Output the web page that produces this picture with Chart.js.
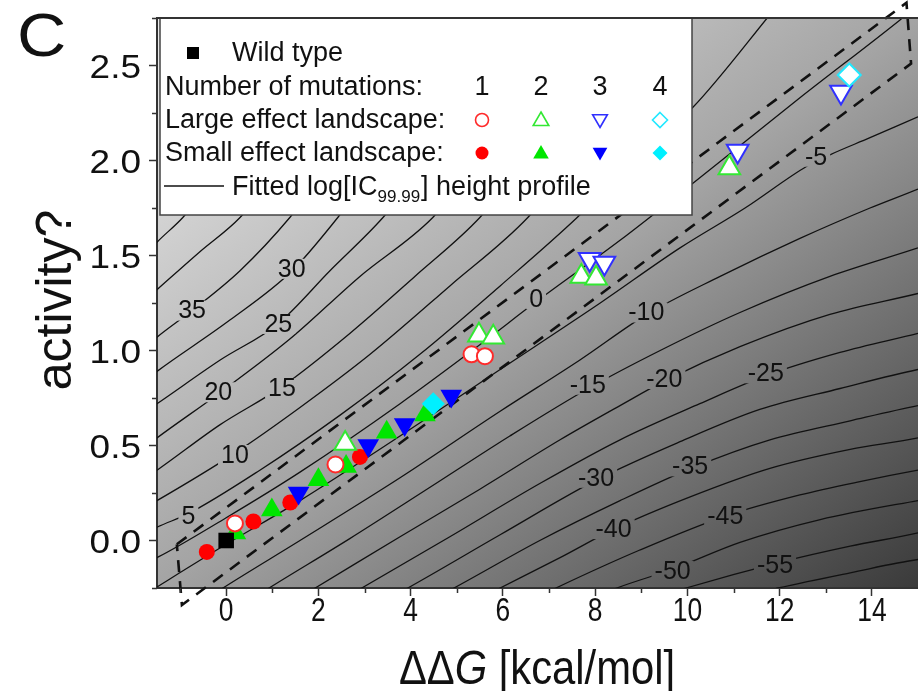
<!DOCTYPE html>
<html>
<head>
<meta charset="utf-8">
<script src="https://cdn.jsdelivr.net/npm/chart.js@4.4.1/dist/chart.umd.min.js"></script>
<style>
  html, body { margin: 0; padding: 0; background: #fff; overflow: hidden; }
  canvas { display: block; }
</style>
</head>
<body>
<canvas id="chart" width="918" height="691"></canvas>
<script>
// mutants: ddG [kcal/mol] vs activity, grouped by landscape and number of mutations
const wildX = [0];
const wildY = [0];

const small1X = [-0.42, 0.59, 1.39, 2.90];
const small1Y = [-0.06, 0.10, 0.20, 0.44];
const small2X = [0.20, 0.99, 2.00, 2.60, 3.48, 4.31];
const small2Y = [0.04, 0.16, 0.32, 0.39, 0.57, 0.66];
const small3X = [1.57, 3.08, 3.87, 4.88];
const small3Y = [0.25, 0.50, 0.61, 0.76];
const small4X = [4.49];
const small4Y = [0.72];

const large1X = [0.19, 2.37, 5.32, 5.61];
const large1Y = [0.09, 0.40, 0.98, 0.97];
const large2X = [2.58, 5.48, 5.79, 7.70, 8.02, 10.91];
const large2Y = [0.51, 1.08, 1.07, 1.39, 1.38, 1.96];
const large3X = [7.88, 8.20, 11.09, 13.33];
const large3Y = [1.48, 1.46, 2.05, 2.36];
const large4X = [13.51];
const large4Y = [2.45];

// viable region outline (dashed)
const bandX = [-1.07, 14.75, 14.85, -0.96, -1.07];
const bandY = [-0.02, 2.83, 2.51, -0.34, -0.02];

// fitted log[IC99.99] height profile, one line per level
const contour45 = [[-1.87,1.47],[-1.50,1.57],[-0.94,1.70],[0.26,2.06],[1.67,2.48],[2.97,2.87]];
const contour40 = [[-1.87,1.24],[-1.50,1.32],[-0.57,1.52],[0.30,1.70],[1.49,2.06],[2.90,2.48],[4.20,2.87]];
const contour35 = [[-1.87,0.99],[-1.50,1.07],[-0.74,1.21],[0.30,1.42],[1.38,1.70],[2.51,2.06],[3.92,2.48],[5.22,2.87]];
const contour30 = [[-1.87,0.82],[-1.50,0.89],[0.08,1.16],[1.43,1.42],[2.42,1.70],[3.55,2.06],[4.96,2.48],[6.26,2.87]];
const contour25 = [[-1.87,0.66],[-1.50,0.72],[-0.13,0.95],[1.12,1.14],[2.25,1.42],[3.40,1.70],[4.59,2.06],[6.00,2.48],[7.30,2.87]];
const contour20 = [[-1.87,0.47],[-1.50,0.54],[-0.18,0.77],[1.38,1.06],[2.90,1.39],[4.48,1.70],[5.68,2.06],[7.09,2.48],[8.39,2.87]];
const contour15 = [[-1.87,0.31],[-1.50,0.37],[-0.13,0.61],[1.21,0.81],[2.68,1.09],[4.09,1.39],[5.50,1.70],[6.70,2.06],[8.11,2.48],[9.41,2.87]];
const contour10 = [[-1.87,0.16],[-1.50,0.21],[0.19,0.46],[1.60,0.70],[3.12,0.98],[4.85,1.34],[6.54,1.70],[7.74,2.06],[9.08,2.48],[10.27,2.87]];
const contour5 = [[-1.87,0.02],[-1.50,0.07],[-0.83,0.14],[0.73,0.37],[2.47,0.66],[4.20,0.98],[5.94,1.34],[7.61,1.70],[8.97,2.03],[10.12,2.28],[11.73,2.75],[12.22,2.90]];
const contour0 = [[-1.87,-0.13],[-1.50,-0.09],[0.00,0.12],[1.60,0.36],[3.77,0.72],[5.50,1.03],[6.74,1.26],[8.54,1.58],[10.12,1.88],[12.44,2.33],[14.61,2.74],[15.26,2.87]];
const contourM5 = [[-1.87,-0.30],[0.00,-0.02],[1.60,0.21],[3.77,0.55],[5.94,0.90],[8.11,1.25],[9.84,1.54],[11.25,1.75],[12.59,1.97],[13.09,2.03],[13.96,2.12],[15.00,2.23],[15.48,2.28]];
const contourM10 = [[-0.57,-0.33],[-0.07,-0.25],[1.60,0.00],[3.77,0.33],[5.94,0.68],[7.67,0.95],[9.12,1.19],[10.71,1.39],[12.44,1.59],[13.96,1.75],[15.00,1.85],[15.48,1.90]];
const contourM15 = [[0.41,-0.33],[0.93,-0.25],[2.68,0.01],[4.42,0.28],[6.15,0.55],[7.85,0.80],[9.41,1.00],[11.14,1.20],[13.09,1.39],[15.00,1.54],[15.48,1.58]];
const contourM20 = [[1.38,-0.33],[1.93,-0.25],[3.77,0.02],[5.50,0.27],[7.24,0.53],[8.54,0.71],[9.51,0.84],[11.14,1.02],[13.09,1.19],[15.00,1.30],[15.48,1.33]];
const contourM25 = [[2.36,-0.33],[2.94,-0.25],[4.85,0.02],[6.80,0.30],[8.54,0.53],[10.27,0.72],[11.73,0.87],[13.31,0.99],[15.00,1.09],[15.48,1.12]];
const contourM30 = [[3.33,-0.33],[3.94,-0.25],[5.94,0.03],[8.04,0.32],[9.84,0.52],[11.57,0.69],[13.31,0.80],[15.00,0.90],[15.48,0.92]];
const contourM35 = [[4.31,-0.33],[4.94,-0.25],[6.80,0.00],[8.54,0.21],[10.08,0.38],[11.79,0.53],[13.53,0.63],[15.00,0.71],[15.48,0.73]];
const contourM40 = [[5.29,-0.33],[5.94,-0.25],[7.24,-0.09],[8.41,0.06],[10.06,0.23],[11.79,0.38],[13.53,0.48],[15.00,0.54],[15.48,0.57]];
const contourM45 = [[6.48,-0.33],[7.15,-0.25],[8.97,-0.05],[10.84,0.13],[12.44,0.24],[13.74,0.31],[15.00,0.37],[15.48,0.39]];
const contourM50 = [[7.78,-0.32],[8.47,-0.25],[9.69,-0.15],[11.14,-0.01],[12.88,0.11],[15.00,0.21],[15.48,0.23]];
const contourM55 = [[9.19,-0.31],[9.97,-0.25],[11.92,-0.12],[13.53,-0.03],[15.00,0.04],[15.48,0.07]];
const contourM60 = [[11.14,-0.30],[11.97,-0.25],[13.53,-0.17],[15.00,-0.10],[15.48,-0.09]];

const contours = [contour45, contour40, contour35, contour30, contour25, contour20, contour15,
  contour10, contour5, contour0, contourM5, contourM10, contourM15, contourM20, contourM25,
  contourM30, contourM35, contourM40, contourM45, contourM50, contourM55, contourM60];

// level labels sitting on the lines
const levelText = ['35', '30', '25', '20', '15', '10', '5', '0', '-5', '-10', '-15', '-20', '-25', '-30', '-35', '-40', '-45', '-50', '-55'];
const levelX = [-0.74, 1.42, 1.13, -0.17, 1.21, 0.19, -0.82, 6.72, 12.79, 9.11, 7.84, 9.50, 11.70, 8.02, 10.06, 8.40, 10.82, 9.68, 11.90];
const levelY = [1.21, 1.43, 1.14, 0.78, 0.80, 0.45, 0.13, 1.27, 2.02, 1.20, 0.82, 0.85, 0.88, 0.33, 0.39, 0.06, 0.13, -0.16, -0.13];

const xMajor = [0, 2, 4, 6, 8, 10, 12, 14];
const xMinor = [-1, 1, 3, 5, 7, 9, 11, 13];
const yMajor = [0, 0.5, 1, 1.5, 2, 2.5];
const yMinor = [-0.25, 0.25, 0.75, 1.25, 1.75, 2.25, 2.75];

const SANS = "'Liberation Sans', Arial, sans-serif";

const RED = '#ff0000', GREEN = '#00e600', BLUE = '#0000ff', CYAN = '#00f0ff';

const pts = (xs, ys) => xs.map((x, i) => ({ x: x, y: ys[i] }));

function markerSet(xs, ys, style, radius, color, open, order, rotation) {
  return {
    data: pts(xs, ys),
    pointStyle: style,
    pointRadius: radius,
    pointRotation: rotation || 0,
    pointBackgroundColor: open ? '#ffffff' : color,
    pointBorderColor: color,
    pointBorderWidth: open ? 2 : 0,
    showLine: false,
    order: order
  };
}

const datasets = contours.map(c => ({
  data: c.map(p => ({ x: p[0], y: p[1] })),
  showLine: true,
  borderColor: '#111',
  borderWidth: 1.3,
  pointRadius: 0,
  cubicInterpolationMode: 'monotone',
  order: 100
}));

datasets.push({
  data: pts(bandX, bandY),
  showLine: true,
  borderColor: '#111',
  borderWidth: 2.6,
  borderDash: [12, 9],
  pointRadius: 0,
  tension: 0,
  clip: false,
  order: 50
});

datasets.push(markerSet(small1X, small1Y, 'circle', 8, RED, false, 24));
datasets.push(markerSet(small2X, small2Y, 'triangle', 12.5, GREEN, false, 23));
datasets.push(markerSet(small3X, small3Y, 'triangle', 12.5, BLUE, false, 22, 180));
datasets.push(markerSet(small4X, small4Y, 'rectRot', 11.5, CYAN, false, 21));
datasets.push(markerSet(large1X, large1Y, 'circle', 8, '#ff2a2a', true, 14));
datasets.push(markerSet(large2X, large2Y, 'triangle', 12.5, '#33e833', true, 13));
datasets.push(markerSet(large3X, large3Y, 'triangle', 12.5, '#3030ff', true, 12, 180));
datasets.push(markerSet(large4X, large4Y, 'rectRot', 11.5, '#22e8ff', true, 11));
datasets.push(markerSet(wildX, wildY, 'rect', 11, '#000000', false, 5));

// small marker shapes for the key
function keyMarker(ctx, shape, r, x, y, color, open) {
  ctx.beginPath();
  if (shape === 'circle') {
    ctx.arc(x, y, r, 0, Math.PI * 2);
  } else if (shape === 'up' || shape === 'down') {
    const s = shape === 'up' ? 1 : -1;
    ctx.moveTo(x, y - s * r);
    ctx.lineTo(x + r * 0.866, y + s * r / 2);
    ctx.lineTo(x - r * 0.866, y + s * r / 2);
    ctx.closePath();
  } else if (shape === 'diamond') {
    ctx.moveTo(x, y - r); ctx.lineTo(x + r, y); ctx.lineTo(x, y + r); ctx.lineTo(x - r, y);
    ctx.closePath();
  } else {
    ctx.rect(x - r, y - r, 2 * r, 2 * r);
  }
  ctx.fillStyle = open ? '#fff' : color;
  ctx.fill();
  if (open) { ctx.strokeStyle = color; ctx.lineWidth = 1.6; ctx.stroke(); }
}

// text squeezed (or stretched) horizontally
function narrowText(ctx, text, x, y, size, style, squeeze, align) {
  ctx.save();
  ctx.font = (style || 'normal') + ' ' + size + 'px ' + SANS;
  const w = ctx.measureText(text).width * squeeze;
  let left = x;
  if (align === 'center') left = x - w / 2;
  if (align === 'right') left = x - w;
  ctx.translate(left, y);
  ctx.scale(squeeze, 1);
  ctx.textAlign = 'left';
  ctx.fillText(text, 0, 0);
  ctx.restore();
  return w;
}

const landscape = {
  id: 'landscape',
  beforeDraw(chart) {
    const { ctx, chartArea: a } = chart;
    const w = a.right - a.left, h = a.bottom - a.top;
    const k = 2 * w * h / (w * w + h * h);
    const g = ctx.createLinearGradient(a.left, a.top, a.left + h * k, a.top + w * k);
    g.addColorStop(0, '#ececec');
    g.addColorStop(0.5, '#a4a4a4');
    g.addColorStop(1, '#3a3a3a');
    chart.$shade = g;
    ctx.save();
    ctx.fillStyle = g;
    ctx.fillRect(a.left, a.top, w, h);
    ctx.restore();
  },
  afterDatasetDraw(chart, args) {
    if (args.index !== 0) return;
    const { ctx, scales } = chart;
    ctx.save();
    ctx.font = '25px ' + SANS;
    ctx.textAlign = 'center';
    ctx.textBaseline = 'middle';
    levelText.forEach((t, i) => {
      const px = scales.x.getPixelForValue(levelX[i]);
      const py = scales.y.getPixelForValue(levelY[i]);
      const tw = ctx.measureText(t).width;
      ctx.fillStyle = chart.$shade;
      ctx.fillRect(px - tw / 2 - 3, py - 10, tw + 6, 20);
      ctx.fillStyle = '#111';
      ctx.fillText(t, px, py + 1);
    });
    ctx.restore();
  },
  afterDatasetsDraw(chart) {
    const { ctx, chartArea: a } = chart;
    ctx.save();
    // key box
    const bx = a.left + 3, by = a.top, bw = 692 - bx, bh = 215 - by;
    ctx.fillStyle = '#fff';
    ctx.fillRect(bx, by, bw, bh);
    ctx.strokeStyle = '#444';
    ctx.lineWidth = 1.5;
    ctx.strokeRect(bx, by, bw, bh);

    ctx.font = '27px ' + SANS;
    ctx.textBaseline = 'middle';
    ctx.textAlign = 'left';
    keyMarker(ctx, 'square', 6, 193, 53, '#000', false);
    ctx.fillStyle = '#111';
    ctx.fillText('Wild type', 232, 54);
    ctx.fillText('Number of mutations:', 165, 88);
    ctx.fillText('Large effect landscape:', 165, 121);
    ctx.fillText('Small effect landscape:', 165, 154);

    const cols = [482, 541, 600, 660];
    ctx.textAlign = 'center';
    ['1', '2', '3', '4'].forEach((n, i) => ctx.fillText(n, cols[i], 88));

    keyMarker(ctx, 'circle', 6.5, cols[0], 120, '#ff2a2a', true);
    keyMarker(ctx, 'up', 9, cols[1], 121, '#33e833', true);
    keyMarker(ctx, 'down', 8.5, cols[2], 119, '#3030ff', true);
    keyMarker(ctx, 'diamond', 7.5, cols[3], 120, '#22e8ff', true);
    keyMarker(ctx, 'circle', 6.5, cols[0], 153, RED, false);
    keyMarker(ctx, 'up', 9, cols[1], 154, GREEN, false);
    keyMarker(ctx, 'down', 8.5, cols[2], 152, BLUE, false);
    keyMarker(ctx, 'diamond', 7.5, cols[3], 153, CYAN, false);

    ctx.strokeStyle = '#111';
    ctx.lineWidth = 1.3;
    ctx.beginPath();
    ctx.moveTo(164, 186);
    ctx.lineTo(224, 186);
    ctx.stroke();

    ctx.fillStyle = '#111';
    ctx.textAlign = 'left';
    ctx.textBaseline = 'alphabetic';
    let x = 232;
    const base = 195;
    const part1 = 'Fitted log[IC';
    ctx.font = '27px ' + SANS;
    ctx.fillText(part1, x, base);
    x += ctx.measureText(part1).width;
    ctx.font = '17px ' + SANS;
    ctx.fillText('99.99', x, base + 7);
    x += ctx.measureText('99.99').width + 1;
    ctx.font = '27px ' + SANS;
    ctx.fillText('] height profile', x, base);
    ctx.restore();
  },
  afterDraw(chart) {
    const { ctx, chartArea: a, scales } = chart;
    ctx.save();
    ctx.strokeStyle = '#333';
    ctx.lineWidth = 2;
    ctx.beginPath();
    ctx.moveTo(a.left - 1, a.top);
    ctx.lineTo(a.right, a.top);
    ctx.stroke();

    ctx.lineWidth = 1.5;
    ctx.beginPath();
    xMinor.forEach(v => {
      const px = Math.round(scales.x.getPixelForValue(v)) + 0.5;
      ctx.moveTo(px, a.bottom);
      ctx.lineTo(px, a.bottom + 5);
    });
    yMinor.forEach(v => {
      const py = Math.round(scales.y.getPixelForValue(v)) + 0.5;
      ctx.moveTo(a.left - 5, py);
      ctx.lineTo(a.left, py);
    });
    ctx.stroke();

    ctx.fillStyle = '#111';
    ctx.textBaseline = 'alphabetic';

    // x tick labels in a condensed face
    xMajor.forEach(v => {
      narrowText(ctx, String(v), scales.x.getPixelForValue(v), a.bottom + 33, 33, 'normal', 0.8, 'center');
    });
    // y tick labels, slightly wide
    yMajor.forEach(v => {
      narrowText(ctx, v.toFixed(1), a.left - 16, scales.y.getPixelForValue(v) + 12, 33, 'normal', 1.12, 'right');
    });

    narrowText(ctx, 'C', 17, 56, 62, 'normal', 1.1, 'left');

    ctx.save();
    ctx.translate(71, 300);
    ctx.rotate(-Math.PI / 2);
    ctx.textAlign = 'center';
    ctx.font = '50px ' + SANS;
    ctx.fillText('activity?', 0, 0);
    ctx.restore();

    // x title with italic G
    const pieces = [['ΔΔ', 'normal'], ['G', 'italic'], [' [kcal/mol]', 'normal']];
    const size = 48, squeeze = 0.87;
    let total = 0;
    pieces.forEach(p => { ctx.font = p[1] + ' ' + size + 'px ' + SANS; total += ctx.measureText(p[0]).width * squeeze; });
    let x = 537 - total / 2;
    pieces.forEach(p => {
      x += narrowText(ctx, p[0], x, 684, size, p[1], squeeze, 'left');
    });
    ctx.restore();
  }
};

new Chart(document.getElementById('chart'), {
  type: 'scatter',
  data: { datasets: datasets },
  options: {
    responsive: false,
    animation: false,
    devicePixelRatio: 1,
    events: [],
    layout: { autoPadding: false, padding: { top: 18, right: 0, bottom: 0, left: 0 } },
    plugins: { legend: { display: false }, tooltip: { enabled: false } },
    scales: {
      x: {
        type: 'linear',
        min: -1.5,
        max: 15,
        afterBuildTicks: s => { s.ticks = xMajor.map(v => ({ value: v })); },
        afterFit: s => { s.height = 103; s.paddingLeft = 0; s.paddingRight = 0; },
        grid: { drawOnChartArea: false, drawTicks: true, tickLength: 8, tickColor: '#333', tickWidth: 1.5 },
        border: { display: true, color: '#333', width: 2 },
        ticks: { display: false, autoSkip: false }
      },
      y: {
        type: 'linear',
        min: -0.25,
        max: 2.75,
        afterBuildTicks: s => { s.ticks = yMajor.map(v => ({ value: v })); },
        afterFit: s => { s.width = 157; s.paddingTop = 0; s.paddingBottom = 0; },
        grid: { drawOnChartArea: false, drawTicks: true, tickLength: 8, tickColor: '#333', tickWidth: 1.5 },
        border: { display: true, color: '#333', width: 2 },
        ticks: { display: false, autoSkip: false }
      }
    }
  },
  plugins: [landscape]
});
</script>
</body>
</html>
